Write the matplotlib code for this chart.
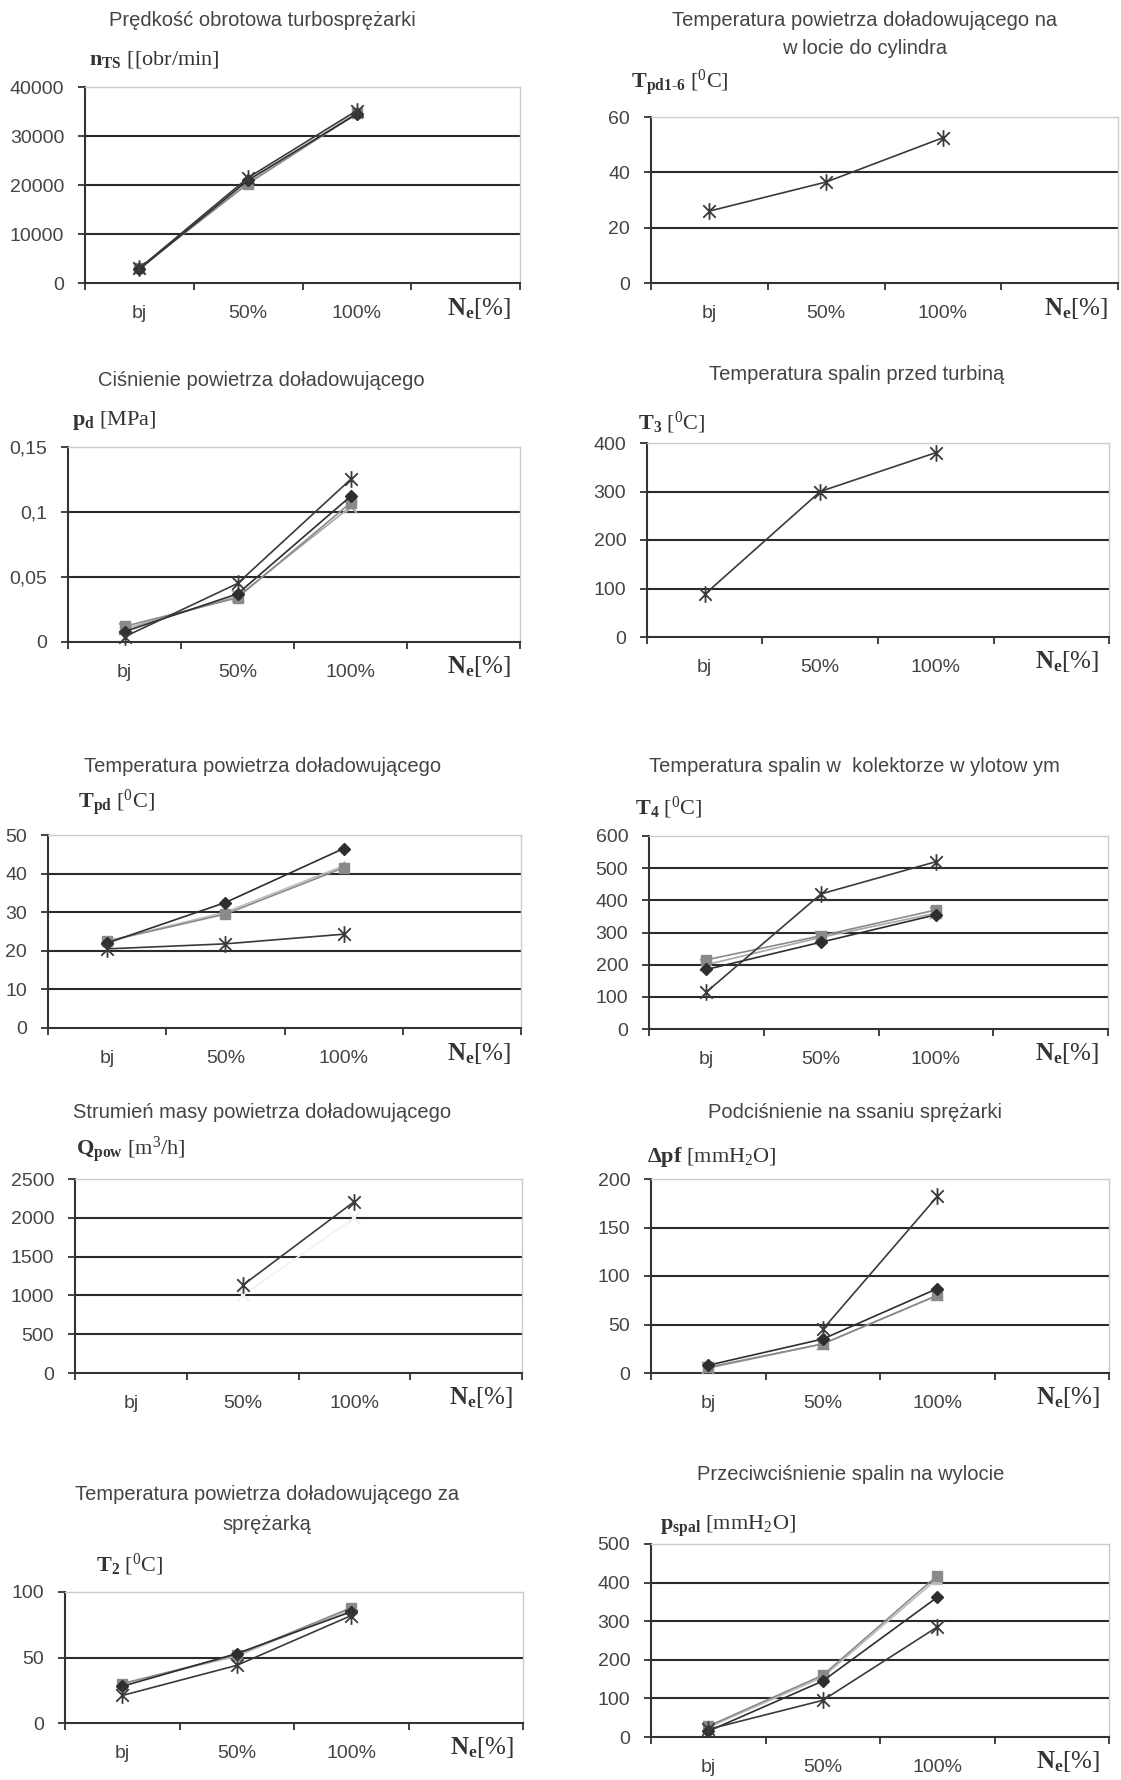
import numpy as np
import matplotlib.pyplot as plt
from matplotlib.path import Path

plt.rcParams['font.family'] = ['Liberation Sans', 'DejaVu Sans']
plt.rcParams['mathtext.fontset'] = 'custom'
plt.rcParams['mathtext.rm'] = 'Liberation Serif'
plt.rcParams['mathtext.it'] = 'Liberation Serif:italic'
plt.rcParams['mathtext.bf'] = 'Liberation Serif:bold'

nan = np.nan
categories = ['bj', '50%', '100%']
end_label = r'$\mathbf{N_e}$[%]'

# n_TS
nts_D = [2800, 21000, 34500]
nts_s = [3000, 20300, 34600]
nts_t = [3100, 20500, 34800]
nts_star = [3000, 21500, 35200]
# T_pd1-6
tpd16_star = [26, 36.5, 52.5]
# p_d
pd_D = [0.008, 0.037, 0.112]
pd_s = [0.012, 0.034, 0.107]
pd_x = [0.010, 0.035, 0.104]
pd_star = [0.004, 0.045, 0.125]
# T_3
t3_star = [88, 300, 380]
# T_pd
tpd_D = [22, 32.5, 46.5]
tpd_s = [22.5, 29.5, 41.5]
tpd_t = [22.5, 30, 42]
tpd_star = [20.5, 21.8, 24.3]
# T_4
t4_D = [185, 270, 355]
t4_s = [215, 290, 370]
t4_x = [200, 285, 360]
t4_star = [115, 420, 520]
# Q_pow
q_light = [nan, 1000, 2000]
q_star = [nan, 1130, 2210]
# delta pf
dpf_D = [8, 35, 87]
dpf_s = [6, 30, 80]
dpf_x = [5, 30, 80]
dpf_star = [nan, 45, 182]
# T_2
t2_D = [28, 53, 85]
t2_s = [30, 52, 88]
t2_t = [30, 51, 87]
t2_star = [21, 44, 82]
# p_spal
pspal_D = [15, 145, 362]
pspal_s = [28, 160, 418]
pspal_t = [25, 155, 410]
pspal_star = [20, 95, 285]

# excel-like star: an X with a vertical bar
star = Path([(0, -1), (0, 1), (-0.75, -0.75), (0.75, 0.75), (-0.75, 0.75), (0.75, -0.75)],
            [Path.MOVETO, Path.LINETO, Path.MOVETO, Path.LINETO, Path.MOVETO, Path.LINETO])

styles = {
    'D': dict(color='#2e2e2e', marker='D', ms=6.5),
    's': dict(color='#8a8a8a', marker='s', ms=6.5),
    '^': dict(color='#bdbdbd', marker='^', ms=7.5),
    'x': dict(color='#a8a8a8', marker='x', ms=8, mew=1.5),
    '*': dict(color='#3a3a3a', marker=star, ms=12, mew=1.3),
    'w': dict(color='#f2f2f2', marker='x', ms=8, mew=1.5),
}

# pixel box: left, top, right, bottom ; title centre x, title y(s), label x, label y
panels = [
    dict(box=(85, 87, 520, 283), title=['Prędkość obrotowa turbosprężarki'], tx=262, ty=[20],
         label=r'$\mathbf{n_{TS}}$ [[obr/min]', lx=89, ly=60,
         ticks=[0, 10000, 20000, 30000, 40000], tl=None,
         series=[(nts_t, '^'), (nts_s, 's'), (nts_D, 'D'), (nts_star, '*')]),
    dict(box=(651, 117, 1118, 283), title=['Temperatura powietrza doładowującego na', 'w locie do cylindra'],
         tx=865, ty=[20, 49], label=r'$\mathbf{T_{pd1\text{-}6}}$ [$^0$C]', lx=631, ly=83,
         ticks=[0, 20, 40, 60], tl=None, series=[(tpd16_star, '*')]),
    dict(box=(68, 447, 520, 642), title=['Ciśnienie powietrza doładowującego'], tx=261, ty=[380],
         label=r'$\mathbf{p_d}$ [MPa]', lx=72, ly=421,
         ticks=[0, 0.05, 0.1, 0.15], tl=['0', '0,05', '0,1', '0,15'],
         series=[(pd_x, 'x'), (pd_s, 's'), (pd_D, 'D'), (pd_star, '*')]),
    dict(box=(647, 443, 1109, 637), title=['Temperatura spalin przed turbiną'], tx=857, ty=[375],
         label=r'$\mathbf{T_3}$ [$^0$C]', lx=638, ly=423,
         ticks=[0, 100, 200, 300, 400], tl=None, series=[(t3_star, '*')]),
    dict(box=(48, 835, 521, 1028), title=['Temperatura powietrza doładowującego'], tx=263, ty=[767],
         label=r'$\mathbf{T_{pd}}$ [$^0$C]', lx=78, ly=803,
         ticks=[0, 10, 20, 30, 40, 50], tl=None,
         series=[(tpd_t, '^'), (tpd_s, 's'), (tpd_D, 'D'), (tpd_star, '*')]),
    dict(box=(649, 836, 1108, 1029), title=['Temperatura spalin w  kolektorze w ylotow ym'], tx=854, ty=[767],
         label=r'$\mathbf{T_4}$ [$^0$C]', lx=635, ly=808,
         ticks=[0, 100, 200, 300, 400, 500, 600], tl=None,
         series=[(t4_x, 'x'), (t4_s, 's'), (t4_D, 'D'), (t4_star, '*')]),
    dict(box=(75, 1179, 522, 1373), title=['Strumień masy powietrza doładowującego'], tx=262, ty=[1112],
         label=r'$\mathbf{Q_{pow}}$ [m$^3$/h]', lx=76, ly=1150,
         ticks=[0, 500, 1000, 1500, 2000, 2500], tl=None,
         series=[(q_light, 'w'), (q_star, '*')]),
    dict(box=(651, 1179, 1109, 1373), title=['Podciśnienie na ssaniu sprężarki'], tx=855, ty=[1112],
         label=r'$\mathbf{\Delta pf}$ [mmH$_2$O]', lx=647, ly=1157,
         ticks=[0, 50, 100, 150, 200], tl=None,
         series=[(dpf_x, 'x'), (dpf_s, 's'), (dpf_D, 'D'), (dpf_star, '*')]),
    dict(box=(65, 1592, 523, 1723), title=['Temperatura powietrza doładowującego za', 'sprężarką'],
         tx=267, ty=[1494, 1525], label=r'$\mathbf{T_2}$ [$^0$C]', lx=96, ly=1565,
         ticks=[0, 50, 100], tl=None,
         series=[(t2_t, '^'), (t2_s, 's'), (t2_D, 'D'), (t2_star, '*')]),
    dict(box=(651, 1544, 1109, 1737), title=['Przeciwciśnienie spalin na wylocie'], tx=851, ty=[1475],
         label=r'$\mathbf{p_{spal}}$ [mmH$_2$O]', lx=660, ly=1526,
         ticks=[0, 100, 200, 300, 400, 500], tl=None,
         series=[(pspal_t, '^'), (pspal_s, 's'), (pspal_D, 'D'), (pspal_star, '*')]),
]

W, H = 1121, 1780
fig = plt.figure(figsize=(W / 100, H / 100), dpi=100)

xc = np.arange(len(categories)) + 0.5
text_col = '#444444'

for p in panels:
    l, t, r, b = p['box']
    ax = fig.add_axes([l / W, 1 - b / H, (r - l) / W, (b - t) / H])
    ax.set_xlim(0, 4)
    ax.set_ylim(p['ticks'][0], p['ticks'][-1])
    for v in p['ticks'][1:-1]:
        ax.axhline(v, color='#2a2a2a', lw=1.5, zorder=1)
    for vals, key in p['series']:
        st = styles[key]
        ax.plot(xc, vals, color=st['color'], lw=1.2, marker=st['marker'], ms=st['ms'],
                mew=st.get('mew', 1), mfc=st['color'], mec=st['color'], zorder=3, clip_on=False)
    ax.set_yticks(p['ticks'])
    if p['tl'] is not None:
        ax.set_yticklabels(p['tl'])
    ax.set_xticks([0, 1, 2, 3, 4])
    ax.set_xticklabels([])
    ax.tick_params(axis='both', direction='out', length=5, width=1.3, color='#333333')
    ax.tick_params(axis='y', pad=10, labelsize=14, labelcolor=text_col)
    for s in ['left', 'bottom']:
        ax.spines[s].set_color('#333333')
        ax.spines[s].set_linewidth(1.5)
    for s in ['top', 'right']:
        ax.spines[s].set_color('#cccccc')
        ax.spines[s].set_linewidth(1.0)
    for x, c in zip(xc, categories):
        ax.annotate(c, (x, 0), xycoords=('data', 'axes fraction'), xytext=(0, -22),
                    textcoords='offset points', ha='center', va='center',
                    fontsize=14, color=text_col)
    ax.annotate(end_label, (3.92, 0), xycoords=('data', 'axes fraction'), xytext=(0, -18),
                textcoords='offset points', ha='right', va='center',
                fontsize=18, color='#333333', family='Liberation Serif')
    for line, y in zip(p['title'], p['ty']):
        fig.text(p['tx'] / W, 1 - y / H, line, ha='center', va='center', fontsize=14.5, color='#444444')
    fig.text(p['lx'] / W, 1 - p['ly'] / H, p['label'], ha='left', va='center', fontsize=16,
             color='#333333', family='Liberation Serif')

fig.savefig('out.png', dpi=100, facecolor='white')
